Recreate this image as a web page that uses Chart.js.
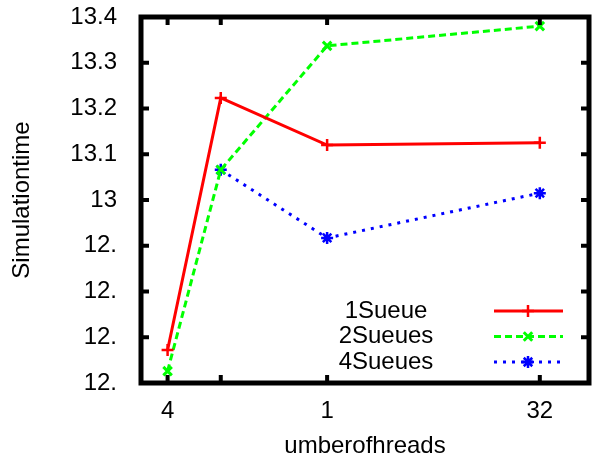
<!DOCTYPE html>
<html>
<head>
<meta charset="utf-8">
<script src="https://cdn.jsdelivr.net/npm/chart.js@4.4.1/dist/chart.umd.min.js"></script>
<style>
html, body { margin: 0; padding: 0; background: #fff; }
canvas { display: block; }
</style>
</head>
<body>
<canvas id="graph" width="594" height="458"></canvas>
<script>
'use strict';

const threads = [4, 8, 16, 32];
const oneQueue = [12.672, 13.223, 13.120, 13.125];
const twoQueues = [12.626, 13.066, 13.337, 13.380];
const fourQueues = [null, 13.066, 12.917, 13.015];
const seriesLabels = ['1Sueue', '2Sueues', '4Sueues'];

const xTickValues = [4, 8, 16, 32];
const xTickLabels = ['4', '', '1', '32'];
const yTickValues = [12.6, 12.7, 12.8, 12.9, 13.0, 13.1, 13.2, 13.3, 13.4];
const yTickLabels = ['12.', '12.', '12.', '12.', '13', '13.1', '13.2', '13.3', '13.4'];

const FONT = 'Liberation Sans, Arial, Helvetica, sans-serif';

function points(values) {
    return threads.map((t, i) => ({ x: t, y: values[i] }));
}

function noPadding(scale) {
    scale.paddingTop = 0;
    scale.paddingBottom = 0;
    scale.paddingLeft = 0;
    scale.paddingRight = 0;
}

// gnuplot-like frame with inward ticks on all four sides
const framePlugin = {
    id: 'frame',
    afterDraw(chart) {
        const { ctx, chartArea: a } = chart;
        const xs = chart.scales.x;
        const ys = chart.scales.y;
        ctx.save();
        ctx.strokeStyle = '#000';
        ctx.lineWidth = 4;
        xTickValues.forEach(v => {
            const px = xs.getPixelForValue(v);
            ctx.beginPath();
            ctx.moveTo(px, a.bottom); ctx.lineTo(px, a.bottom - 8);
            ctx.moveTo(px, a.top); ctx.lineTo(px, a.top + 8);
            ctx.stroke();
        });
        yTickValues.forEach(v => {
            const py = ys.getPixelForValue(v);
            ctx.beginPath();
            ctx.moveTo(a.left, py); ctx.lineTo(a.left + 8, py);
            ctx.moveTo(a.right, py); ctx.lineTo(a.right - 8, py);
            ctx.stroke();
        });
        ctx.lineWidth = 5;
        ctx.strokeRect(a.left, a.top, a.right - a.left, a.bottom - a.top);
        ctx.restore();
    }
};

// key in the lower right: text first, then a line sample
const keyPlugin = {
    id: 'key',
    afterDraw(chart) {
        const { ctx, chartArea: a } = chart;
        ctx.save();
        ctx.font = '24px ' + FONT;
        ctx.textAlign = 'center';
        ctx.textBaseline = 'middle';
        chart.data.datasets.forEach((ds, i) => {
            const y = a.bottom - 72 + i * 25.5;
            ctx.fillStyle = '#000';
            ctx.fillText(ds.label, a.right - 203, y);
            ctx.strokeStyle = ds.borderColor;
            ctx.lineWidth = ds.borderWidth;
            ctx.setLineDash(ds.borderDash || []);
            ctx.beginPath();
            ctx.moveTo(a.right - 95, y);
            ctx.lineTo(a.right - 26, y);
            ctx.stroke();
            ctx.setLineDash([]);
            ctx.lineWidth = ds.pointBorderWidth;
            Chart.helpers.drawPoint(ctx, {
                pointStyle: ds.pointStyle,
                radius: ds.pointRadius,
                rotation: 0,
                borderWidth: ds.pointBorderWidth
            }, a.right - 61, y);
        });
        ctx.restore();
    }
};

new Chart(document.getElementById('graph').getContext('2d'), {
    type: 'line',
    data: {
        datasets: [{
            label: seriesLabels[0],
            data: points(oneQueue),
            borderColor: '#ff0000',
            backgroundColor: '#ff0000',
            borderWidth: 3,
            pointStyle: 'cross',
            pointRadius: 6,
            pointBorderWidth: 2.5
        }, {
            label: seriesLabels[1],
            data: points(twoQueues),
            borderColor: '#00ff00',
            backgroundColor: '#00ff00',
            borderWidth: 3,
            borderDash: [7, 4],
            pointStyle: 'crossRot',
            pointRadius: 6,
            pointBorderWidth: 3
        }, {
            label: seriesLabels[2],
            data: points(fourQueues),
            borderColor: '#0000ff',
            backgroundColor: '#0000ff',
            borderWidth: 3,
            borderDash: [3, 6],
            pointStyle: 'star',
            pointRadius: 6,
            pointBorderWidth: 2.5
        }]
    },
    options: {
        responsive: false,
        animation: false,
        devicePixelRatio: 1,
        layout: { autoPadding: false, padding: { top: 17, right: 5, left: 0, bottom: 0 } },
        plugins: {
            legend: { display: false },
            tooltip: { enabled: false }
        },
        scales: {
            x: {
                type: 'linear',
                min: 2,
                max: 35.7,
                afterBuildTicks: scale => { scale.ticks = xTickValues.map(v => ({ value: v })); },
                afterFit: scale => { scale.height = 75; noPadding(scale); },
                grid: { display: false, drawTicks: false },
                border: { display: false },
                ticks: {
                    autoSkip: false,
                    maxRotation: 0,
                    padding: 14,
                    color: '#000',
                    font: { family: FONT, size: 24 },
                    callback: (v, i) => xTickLabels[i]
                },
                title: {
                    display: true,
                    text: 'umberofhreads',
                    color: '#000',
                    padding: 0,
                    font: { family: FONT, size: 24, lineHeight: 1 }
                }
            },
            y: {
                min: 12.6,
                max: 13.4,
                afterBuildTicks: scale => { scale.ticks = yTickValues.map(v => ({ value: v })); },
                afterFit: scale => { scale.width = 141; noPadding(scale); },
                grid: { display: false, drawTicks: false },
                border: { display: false },
                ticks: {
                    autoSkip: false,
                    padding: 24,
                    color: '#000',
                    font: { family: FONT, size: 24 },
                    callback: (v, i) => yTickLabels[i]
                },
                title: {
                    display: true,
                    text: 'Simulationtime',
                    color: '#000',
                    padding: 10,
                    font: { family: FONT, size: 24, lineHeight: 1 }
                }
            }
        }
    },
    plugins: [framePlugin, keyPlugin]
});
</script>
</body>
</html>
